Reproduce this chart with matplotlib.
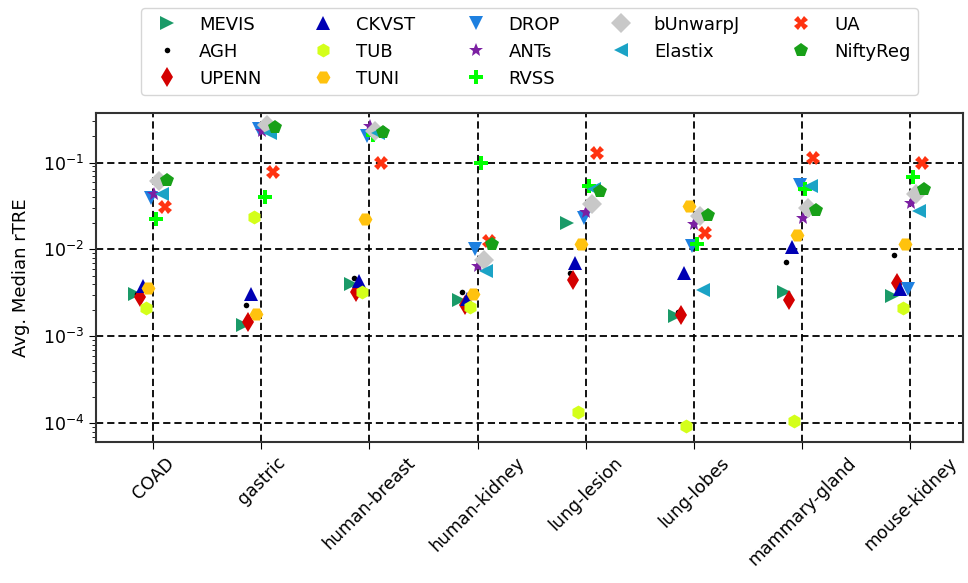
import numpy as np
import matplotlib
matplotlib.use("Agg")
import matplotlib.pyplot as plt
from matplotlib.ticker import LogLocator, NullFormatter

categories = ["COAD", "gastric", "human-breast", "human-kidney",
              "lung-lesion", "lung-lobes", "mammary-gland", "mouse-kidney"]

methods = ["MEVIS", "AGH", "UPENN", "CKVST", "TUB", "TUNI", "DROP",
           "ANTs", "RVSS", "bUnwarpJ", "Elastix", "UA", "NiftyReg"]

MEVIS = [0.0031, 0.00135, 0.0040, 0.0026, 0.020, 0.0017, 0.0032, 0.0029]
AGH = [0.0031, 0.0023, 0.0047, 0.0032, 0.0054, 0.0019, 0.0072, 0.0087]
UPENN = [0.0028, 0.00145, 0.0032, 0.0023, 0.0045, 0.00176, 0.0026, 0.0041]
CKVST = [0.0038, 0.00305, 0.0043, 0.0027, 0.0069, 0.0053, 0.0107, 0.0035]
TUB = [0.0021, 0.0234, 0.0032, 0.0022, 0.000134, 0.000092, 0.000106, 0.0021]
TUNI = [0.0036, 0.0018, 0.0224, 0.0031, 0.0116, 0.032, 0.0147, 0.0116]
DROP = [0.039, 0.24, 0.202, 0.010, 0.023, 0.011, 0.0555, 0.0035]
ANTs = [0.043, 0.23, 0.263, 0.0065, 0.027, 0.0194, 0.023, 0.034]
RVSS = [0.0224, 0.0397, 0.21, 0.100, 0.053, 0.0114, 0.0495, 0.069]
bUnwarpJ = [0.062, 0.27, 0.23, 0.0075, 0.033, 0.0245, 0.030, 0.0435]
Elastix = [0.043, 0.217, 0.22, 0.0056, 0.050, 0.0034, 0.053, 0.028]
UA = [0.0305, 0.077, 0.098, 0.0124, 0.130, 0.0156, 0.112, 0.100]
NiftyReg = [0.063, 0.255, 0.226, 0.0115, 0.047, 0.025, 0.0287, 0.0495]

values = [MEVIS, AGH, UPENN, CKVST, TUB, TUNI, DROP,
          ANTs, RVSS, bUnwarpJ, Elastix, UA, NiftyReg]

markers = [">", ".", "d", "^", "h", "H", "v", "*", "P", "D", "<", "X", "p"]
colors = ["#1a9a68", "#000000", "#d40000", "#0000b4", "#d4ff1a", "#ffc20e",
          "#1e80e0", "#7b1fa2", "#00ff00", "#c8c8c8", "#1ba3c6", "#ff3311",
          "#18a018"]
sizes = [10, 8, 10, 10, 10, 10, 10, 10, 10, 10, 10, 10, 10]
offsets = np.linspace(-0.17, 0.13, len(methods))

fig = plt.figure(figsize=(9.68, 5.83), dpi=100)
ax = fig.add_axes([0.099, 0.242, 0.896, 0.565])

x = np.arange(len(categories))
for name, vals, m, c, s, off in zip(methods, values, markers, colors, sizes, offsets):
    ax.plot(x + off, vals, linestyle="none", marker=m, color=c,
            markersize=s, markeredgewidth=0, label=name)

ax.set_yscale("log")
ax.set_ylim(6.1e-5, 0.376)
ax.set_xlim(-0.53, 7.49)
ax.set_xticks(x)
ax.set_xticklabels(categories, rotation=45, fontsize=12.5)
ax.yaxis.set_major_locator(LogLocator(base=10, numticks=10))
ax.yaxis.set_minor_locator(LogLocator(base=10, subs=np.arange(2, 10), numticks=20))
ax.yaxis.set_minor_formatter(NullFormatter())
ax.tick_params(axis="y", which="major", labelsize=12.5, length=5)
ax.tick_params(axis="y", which="minor", length=3)
ax.tick_params(axis="x", length=5)
ax.set_ylabel("Avg. Median rTRE", fontsize=13, labelpad=9)
ax.grid(True, which="major", linestyle=(0, (4, 2.2)), color="black", linewidth=1.3)
for sp in ax.spines.values():
    sp.set_linewidth(1.5)
    sp.set_color("#333333")

ax.legend(loc="lower center", bbox_to_anchor=(0.5, 1.026), ncol=5,
          fontsize=13, frameon=True, columnspacing=2.4)

fig.savefig("out.png", dpi=100)
